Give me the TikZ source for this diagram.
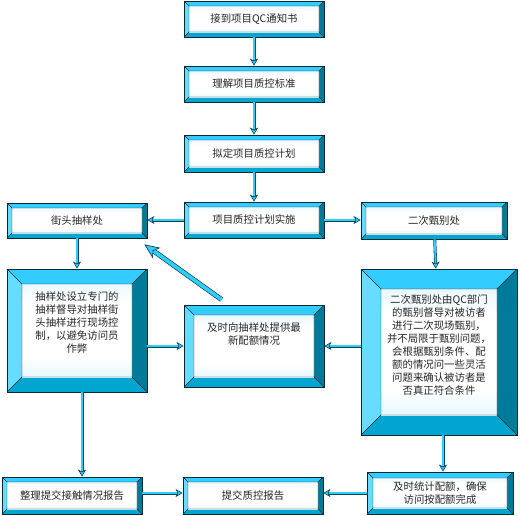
\documentclass[tikz,border=0pt]{standalone}
\usepackage{fontspec}
\newfontfamily\cjk{Noto Sans CJK SC}
\usetikzlibrary{arrows.meta,calc}
\definecolor{bvtop}{HTML}{33CCFF}
\definecolor{bvleft}{HTML}{66DDFF}
\definecolor{bvright}{HTML}{007A99}
\definecolor{bvbot}{HTML}{00A6D0}
\definecolor{facetop}{HTML}{B8E6FF}
\definecolor{facebot}{HTML}{A6E6FF}
\definecolor{edge}{HTML}{0A2A33}
\definecolor{arrfill}{HTML}{33CCFF}
\definecolor{arrline}{HTML}{0A4455}
\pgfdeclareverticalshading{facesh}{100bp}{color(0bp)=(facebot); color(35bp)=(white); color(65bp)=(white); color(100bp)=(facetop)}
\begin{document}
\begin{tikzpicture}[x=1pt,y=-1pt,
  bev/.store in=\bevw, bev=5,
  txt/.style={font=\cjk\fontsize{10.4}{13}\selectfont, text=black!85, align=center},
  bbox/.style={draw=edge, line width=0.8pt, inner sep=0pt, txt,
   path picture={
     \coordinate (nw) at (path picture bounding box.north west);
     \coordinate (ne) at (path picture bounding box.north east);
     \coordinate (sw) at (path picture bounding box.south west);
     \coordinate (se) at (path picture bounding box.south east);
     \coordinate (inw) at ([shift={(\bevw pt,-\bevw pt)}]nw);
     \coordinate (ine) at ([shift={(-\bevw pt,-\bevw pt)}]ne);
     \coordinate (isw) at ([shift={(\bevw pt,\bevw pt)}]sw);
     \coordinate (ise) at ([shift={(-\bevw pt,\bevw pt)}]se);
     \fill[bvtop] (nw) -- (ne) -- (ine) -- (inw) -- cycle;
     \fill[bvleft] (nw) -- (inw) -- (isw) -- (sw) -- cycle;
     \fill[bvright] (ne) -- (se) -- (ise) -- (ine) -- cycle;
     \fill[bvbot] (sw) -- (isw) -- (ise) -- (se) -- cycle;
     \shade[shading=facesh] (isw) rectangle (ine);
     \draw[edge, line width=0.4pt] (inw) rectangle (ise) (nw) -- (inw) (ne) -- (ine) (se) -- (ise) (sw) -- (isw);
   }},
  flow/.style={draw=arrline, line width=0.6pt, double=arrfill, double distance=1.8pt,
    -{Stealth[length=7pt,width=8pt,inset=2pt,fill=arrfill]}},
  flowbig/.style={draw=arrline, line width=0.7pt, double=arrfill, double distance=3.6pt,
    -{Stealth[length=15pt,width=13pt,inset=4pt,fill=arrfill]}}
]
\fill[white] (0,0) rectangle (520,515);
\path[use as bounding box] (0,0) rectangle (520,515);

\node[bbox, minimum width=140pt, minimum height=36pt] (n1) at (254,19) {接到项目QC通知书};
\node[bbox, minimum width=140pt, minimum height=36pt] (n2) at (254,84) {理解项目质控标准};
\node[bbox, minimum width=140pt, minimum height=37pt] (n3) at (254,153.5) {拟定项目质控计划};
\node[bbox, minimum width=140pt, minimum height=36pt] (n4) at (254,220) {项目质控计划实施};
\node[bbox, minimum width=140pt, minimum height=35pt] (jie) at (77,220.5) {街头抽样处};
\node[bbox, minimum width=146pt, minimum height=37pt] (er) at (434,220.5) {二次甄别处};

\node[bbox, bev=15, minimum width=140pt, minimum height=123pt,
  label={[txt, yshift=8pt]center:抽样处设立专门的\\抽样督导对抽样街\\头抽样进行现场控\\制，以避免访问员\\作弊}] (bigL) at (77,330.5) {};
\node[bbox, bev=10, minimum width=140pt, minimum height=82pt,
  label={[txt, yshift=12pt]center:及时向抽样处提供最\\新配额情况}] (mid) at (254,346) {};
\node[bbox, bev=20, minimum width=156pt, minimum height=166pt,
  label={[txt, yshift=7pt]center:二次甄别处由QC部门\\的甄别督导对被访者\\进行二次现场甄别，\\并不局限于甄别问题，\\会根据甄别条件、配\\额的情况问一些灵活\\问题来确认被访者是\\否真正符合条件}] (bigR) at (439,352) {};

\node[bbox, minimum width=140pt, minimum height=37pt] (A) at (72,495.5) {整理提交接触情况报告};
\node[bbox, minimum width=140pt, minimum height=37pt] (B) at (253,495.5) {提交质控报告};
\node[bbox, bev=6, minimum width=146pt, minimum height=42pt] (C) at (440,493) {及时统计配额，确保\\访问按配额完成};

\draw[flow] (n1) -- (n2);
\draw[flow] (n2) -- (n3);
\draw[flow] (n3) -- (n4);
\draw[flow] (n4.west) -- (jie.east |- n4.west);
\draw[flow] (n4.east) -- (er.west |- n4.east);
\draw[flow] (jie) -- (bigL);
\draw[flow] (er) -- (bigR);
\draw[flow] (mid.west -| bigL.east) -- (mid.west);
\draw[flow] (mid.east -| bigR.west) -- (mid.east);
\coordinate (dS) at ($(mid.north west)+(38,-5)$);
\coordinate (dE) at ($(jie.south east)+(-3,6)$);
\draw[flowbig] (dS) -- (dE);
\coordinate (lb) at ([xshift=5pt]bigL.south);
\draw[flow] (lb) -- (lb |- A.north);
\coordinate (rb) at ([xshift=4pt]bigR.south);
\draw[flow] (rb) -- (rb |- C.north);
\draw[flow] (A.east |- C.west) -- (B.west |- C.west);
\draw[flow] (C.west) -- (B.east |- C.west);
\end{tikzpicture}
\end{document}
